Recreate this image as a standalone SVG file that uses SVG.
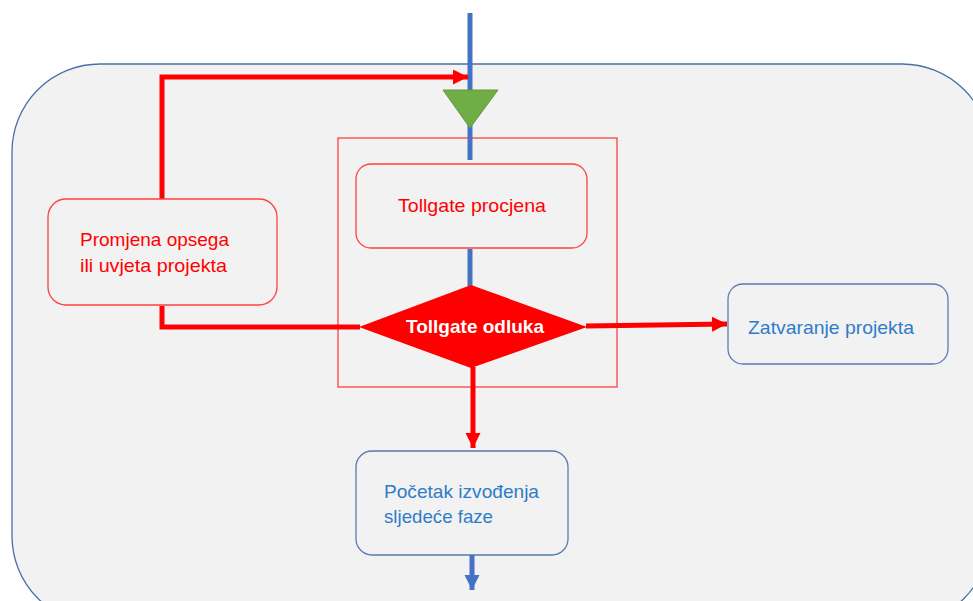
<svg xmlns="http://www.w3.org/2000/svg" width="973" height="601" viewBox="0 0 973 601">
<style>
.bg{fill:#f2f2f2;stroke:#4a6fa8;stroke-width:1.3}
.rbox{fill:#f2f2f2;stroke:#ff4040;stroke-width:1.3}
.bbox{fill:#f2f2f2;stroke:#5a7ab0;stroke-width:1.3}
.red{stroke:#ff0000;stroke-width:5;fill:none}
.blue{stroke:#4472c4;stroke-width:5;fill:none}
.t{font-family:"Liberation Sans",Arial,sans-serif;font-size:19px}
.tr{fill:#ff0000}
.tb{fill:#2f7cc8}
</style>
<defs>
<marker id="ar" markerUnits="userSpaceOnUse" markerWidth="16" markerHeight="16" refX="15" refY="7.5" orient="auto"><path d="M0,0 L15,7.5 L0,15 Z" fill="#ff0000"/></marker>
<marker id="ab" markerUnits="userSpaceOnUse" markerWidth="16" markerHeight="16" refX="15" refY="7.5" orient="auto"><path d="M0,0 L15,7.5 L0,15 Z" fill="#4472c4"/></marker>
</defs>
<rect class="bg" x="12" y="64" width="978" height="560" rx="88" ry="88"/>
<rect x="338" y="138" width="279" height="249" fill="none" stroke="#ff4040" stroke-width="1.3"/>
<g id="connectors">
<line class="blue" x1="470" y1="13" x2="470" y2="160"/>
<line class="blue" x1="470" y1="249" x2="470" y2="286"/>
<polyline class="red" points="162,199 162,77 468,77" marker-end="url(#ar)"/>
<polyline class="red" points="162,306 162,327 360,327"/>
<line class="red" x1="586" y1="326" x2="727" y2="324" marker-end="url(#ar)"/>
<line class="red" x1="473" y1="367" x2="473" y2="448" marker-end="url(#ar)"/>
<line class="blue" x1="472" y1="555" x2="472" y2="590" marker-end="url(#ab)"/>
</g>
<g id="start"><polygon points="443,90 498,90 470,128" fill="#70ad47" stroke="#5e9a3a" stroke-width="1"/></g>
<g id="procjena"><rect class="rbox" x="356" y="164" width="231" height="84" rx="15"/><text class="t tr" x="398" y="212" textLength="148" lengthAdjust="spacingAndGlyphs">Tollgate procjena</text></g>
<g id="promjena"><rect class="rbox" x="48" y="199" width="229" height="106" rx="18"/><text class="t tr" x="80" y="246" textLength="149" lengthAdjust="spacingAndGlyphs">Promjena  opsega</text><text class="t tr" x="80" y="272" textLength="147" lengthAdjust="spacingAndGlyphs">ili uvjeta projekta</text></g>
<g id="odluka"><polygon points="359,327 471,285 587,327 471,368" fill="#ff0000"/><text class="t" x="406" y="333" fill="#ffffff" font-weight="bold" font-size="18" textLength="138" lengthAdjust="spacingAndGlyphs">Tollgate odluka</text></g>
<g id="zatvaranje"><rect class="bbox" x="728" y="284" width="220" height="80" rx="15"/><text class="t tb" x="748" y="334" textLength="166" lengthAdjust="spacingAndGlyphs">Zatvaranje projekta</text></g>
<g id="pocetak"><rect class="bbox" x="356" y="451" width="212" height="104" rx="16"/><text class="t tb" x="384" y="498" textLength="155" lengthAdjust="spacingAndGlyphs">Početak izvođenja</text><text class="t tb" x="384" y="523" textLength="109" lengthAdjust="spacingAndGlyphs">sljedeće faze</text></g>
</svg>
